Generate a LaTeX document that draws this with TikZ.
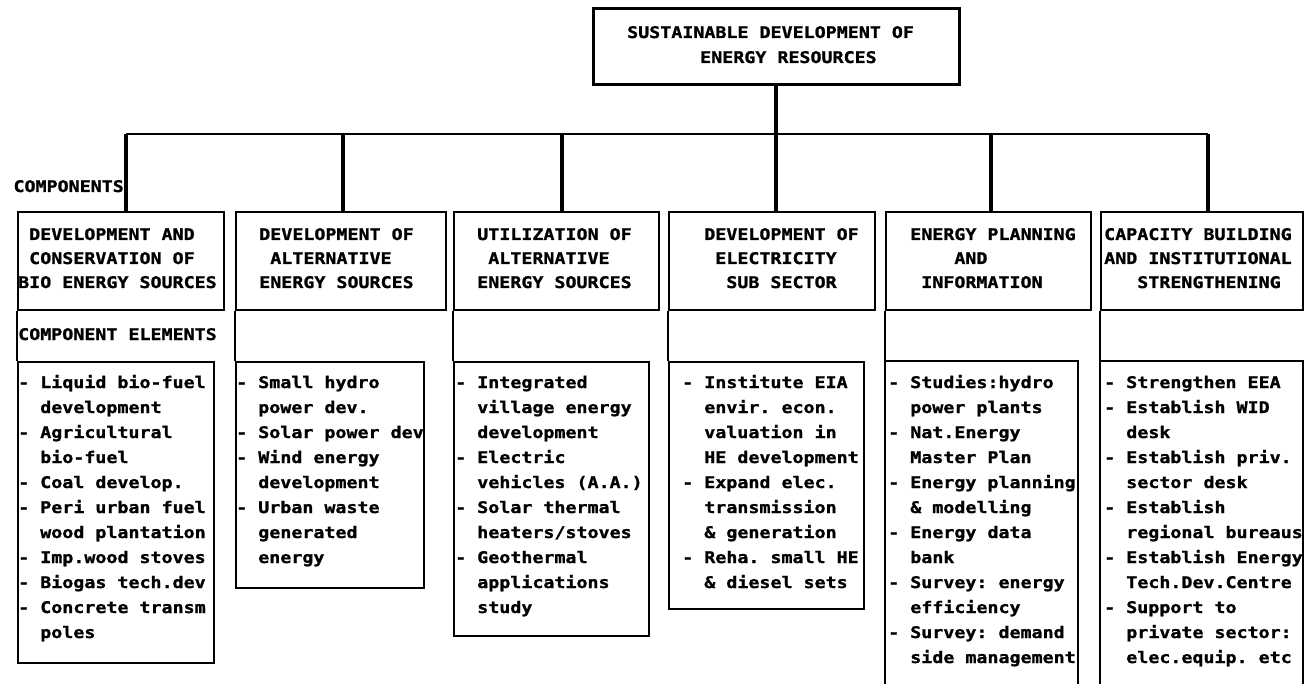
\documentclass[tikz,border=0pt]{standalone}
\usepackage{fontspec}
\newfontfamily\mono[FakeStretch=1.145,FakeBold=1.2]{DejaVu Sans Mono}
\newcommand{\ws}{\hphantom{0}}
\newcommand{\textlines}[4]{%
  \foreach \t [count=\i] in {#4} {
    \node[txt] (#1-\i) at (#2, {#3+25*(\i-1)}) {\t};
  }}
\newcommand{\complines}[3]{%
  \foreach \t [count=\i] in {#3} {
    \node[txt] (#1-\i) at (#2, {240+24*(\i-1)}) {\t};
  }}
\frenchspacing
\begin{document}
\frenchspacing
\begin{tikzpicture}[x=1pt,y=-1pt,
  txt/.style={anchor=base west, inner sep=0pt, font=\mono\bfseries\fontsize{16}{25}\selectfont\frenchspacing},
  topbox/.style={draw, line width=3pt, anchor=north west, inner sep=0pt},
  cbox/.style={draw, line width=1.8pt, anchor=north west, inner sep=0pt},
  ebox/.style={draw, line width=1.6pt, anchor=north west, inner sep=0pt},
  openbox/.style={line width=1.6pt},
  bus/.style={line width=2.6pt},
  drop/.style={line width=3.6pt},
  link/.style={line width=1.6pt}]
\useasboundingbox (0,0) rectangle (1305,684);

% top box
\node[topbox, minimum width=366pt, minimum height=76pt] (top) at (592,7) {};
\node[txt] (top-1) at (627,38) {SUSTAINABLE DEVELOPMENT OF};
\node[txt] (top-2) at (700,63) {ENERGY RESOURCES};

% component boxes
\node[cbox, minimum width=206pt, minimum height=98pt] (c1) at (17,211) {};
\node[cbox, minimum width=210pt, minimum height=98pt] (c2) at (235,211) {};
\node[cbox, minimum width=205pt, minimum height=98pt] (c3) at (453,211) {};
\node[cbox, minimum width=206pt, minimum height=98pt] (c4) at (668,211) {};
\node[cbox, minimum width=205pt, minimum height=98pt] (c5) at (885,211) {};
\node[cbox, minimum width=202pt, minimum height=98pt] (c6) at (1100,211) {};

% bus and drops
\coordinate (b1) at (126,134);
\coordinate (b2) at (343,134);
\coordinate (b3) at (562,134);
\coordinate (b4) at (776,134);
\coordinate (b5) at (991,134);
\coordinate (b6) at (1208,134);
\draw[bus] (b1) -- (b6);
\draw[drop] (top.south -| b4) -- (b4 |- c4.north);
\foreach \k in {1,2,3,5,6} {
  \draw[drop] (b\k) -- (b\k |- c\k.north);
}
\node[txt, anchor=base east] (complabel) at (124,192) {COMPONENTS};

% component texts
\complines{ct1}{18}{{\ws DEVELOPMENT AND},{\ws CONSERVATION OF},{BIO ENERGY SOURCES}}
\complines{ct2}{237}{{\ws\ws DEVELOPMENT OF},{\ws\ws\ws ALTERNATIVE},{\ws\ws ENERGY SOURCES}}
\complines{ct3}{455}{{\ws\ws UTILIZATION OF},{\ws\ws\ws ALTERNATIVE},{\ws\ws ENERGY SOURCES}}
\complines{ct4}{671}{{\ws\ws\ws DEVELOPMENT OF},{\ws\ws\ws\ws ELECTRICITY},{\ws\ws\ws\ws\ws SUB SECTOR}}
\complines{ct5}{888}{{\ws\ws ENERGY PLANNING},{\ws\ws\ws\ws\ws\ws AND},{\ws\ws\ws INFORMATION}}
\complines{ct6}{1104}{{CAPACITY BUILDING},{AND INSTITUTIONAL},{\ws\ws\ws STRENGTHENING}}

\node[txt] (elabel) at (18,340) {COMPONENT ELEMENTS};

% element boxes
\node[ebox, minimum width=196pt, minimum height=301pt] (e1) at (17,361) {};
\node[ebox, minimum width=188pt, minimum height=226pt] (e2) at (235,361) {};
\node[ebox, minimum width=195pt, minimum height=274pt] (e3) at (453,361) {};
\node[ebox, minimum width=195pt, minimum height=247pt] (e4) at (668,361) {};
\coordinate (e5nw) at (885,361);
\coordinate (e5ne) at (1078,361);
\coordinate (e5sw) at (885,690);
\coordinate (e5se) at (1078,690);
\coordinate (e6nw) at (1100,361);
\coordinate (e6ne) at (1303,361);
\coordinate (e6sw) at (1100,690);
\coordinate (e6se) at (1303,690);
\draw[openbox] (e5sw) -- (e5nw) -- (e5ne) -- (e5se);
\draw[openbox] (e6sw) -- (e6nw) -- (e6ne) -- (e6se);

% links component -> elements
\draw[link] (c1.south west) -- (e1.north west);
\draw[link] (c2.south west) -- (e2.north west);
\draw[link] (c3.south west) -- (e3.north west);
\draw[link] (c4.south west) -- (e4.north west);
\draw[link] (c5.south west) -- (e5nw);
\draw[link] (c6.south west) -- (e6nw);

% element texts
\textlines{et1}{18}{388}{{- Liquid bio-fuel},{\ws\ws development},{- Agricultural},{\ws\ws bio-fuel},{- Coal develop.},{- Peri urban fuel},{\ws\ws wood plantation},{- Imp.wood stoves},{- Biogas tech.dev},{- Concrete transm},{\ws\ws poles}}
\textlines{et2}{236}{388}{{- Small hydro},{\ws\ws power dev.},{- Solar power dev},{- Wind energy},{\ws\ws development},{- Urban waste},{\ws\ws generated},{\ws\ws energy}}
\textlines{et3}{455}{388}{{- Integrated},{\ws\ws village energy},{\ws\ws development},{- Electric},{\ws\ws vehicles (A.A.)},{- Solar thermal},{\ws\ws heaters/stoves},{- Geothermal},{\ws\ws applications},{\ws\ws study}}
\textlines{et4}{671}{388}{{\ws- Institute EIA},{\ws\ws\ws envir. econ.},{\ws\ws\ws valuation in},{\ws\ws\ws HE development},{\ws- Expand elec.},{\ws\ws\ws transmission},{\ws\ws\ws \& generation},{\ws- Reha. small HE},{\ws\ws\ws \& diesel sets}}
\textlines{et5}{888}{388}{{- Studies:hydro},{\ws\ws power plants},{- Nat.Energy},{\ws\ws Master Plan},{- Energy planning},{\ws\ws \& modelling},{- Energy data},{\ws\ws bank},{- Survey: energy},{\ws\ws efficiency},{- Survey: demand},{\ws\ws side management}}
\textlines{et6}{1104}{388}{{- Strengthen EEA},{- Establish WID},{\ws\ws desk},{- Establish priv.},{\ws\ws sector desk},{- Establish},{\ws\ws regional bureaus},{- Establish Energy},{\ws\ws Tech.Dev.Centre},{- Support to},{\ws\ws private sector:},{\ws\ws elec.equip. etc}}
\end{tikzpicture}
\end{document}
